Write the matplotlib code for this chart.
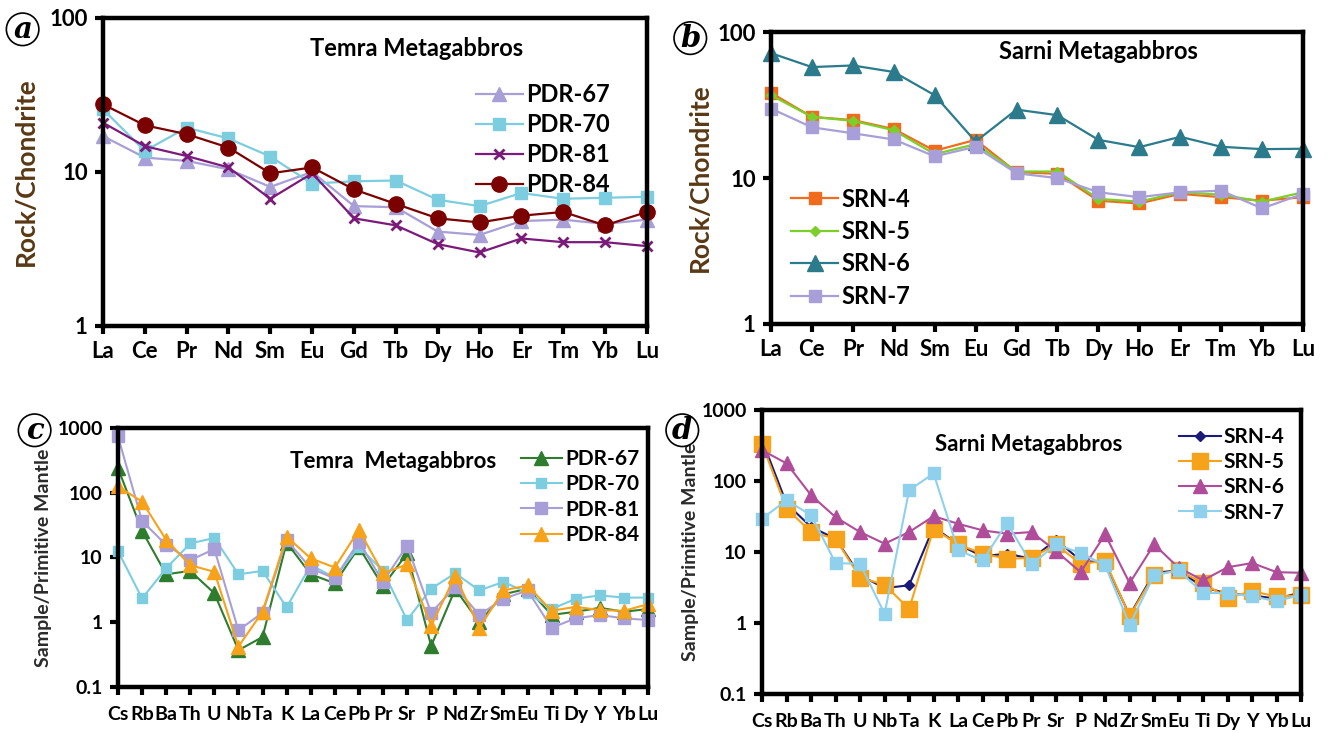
import matplotlib
matplotlib.use("Agg")
import matplotlib.pyplot as plt

plt.rcParams["font.family"] = ["Lato", "DejaVu Sans"]
plt.rcParams["font.weight"] = "bold"

ree = ["La", "Ce", "Pr", "Nd", "Sm", "Eu", "Gd", "Tb", "Dy", "Ho", "Er", "Tm", "Yb", "Lu"]
spider = ["Cs", "Rb", "Ba", "Th", "U", "Nb", "Ta", "K", "La", "Ce", "Pb", "Pr", "Sr",
          "P", "Nd", "Zr", "Sm", "Eu", "Ti", "Dy", "Y", "Yb", "Lu"]

# (a) Temra, chondrite normalised
pdr67_ree = [17.1, 12.4, 11.8, 10.4, 8.0, 10.0, 6.0, 5.9, 4.1, 3.9, 4.8, 4.9, 4.6, 4.9]
pdr70_ree = [25.5, 13.7, 19.4, 16.5, 12.6, 8.4, 8.7, 8.8, 6.6, 6.0, 7.3, 6.7, 6.8, 6.9]
pdr81_ree = [20.9, 14.7, 12.7, 10.7, 6.7, 9.8, 5.0, 4.5, 3.4, 3.0, 3.7, 3.5, 3.5, 3.3]
pdr84_ree = [27.5, 20.1, 17.6, 14.4, 9.8, 10.7, 7.7, 6.2, 5.0, 4.7, 5.2, 5.5, 4.5, 5.5]

# (b) Sarni, chondrite normalised
srn4_ree = [38.4, 26.3, 25.0, 21.7, 15.4, 18.3, 11.0, 10.7, 7.0, 6.7, 7.8, 7.4, 7.0, 7.4]
srn5_ree = [37.0, 26.3, 24.7, 21.3, 14.6, 17.1, 11.1, 11.1, 7.2, 6.9, 8.0, 7.7, 6.9, 8.0]
srn6_ree = [71.9, 57.7, 59.2, 53.4, 37.0, 17.8, 29.5, 27.0, 18.3, 16.3, 19.2, 16.4, 15.8, 15.9]
srn7_ree = [30.0, 22.3, 20.3, 18.4, 14.1, 16.4, 10.8, 10.0, 8.0, 7.4, 8.0, 8.2, 6.2, 7.8]

# (c) Temra, primitive mantle normalised
pdr67_pm = [240, 25.7, 5.5, 6.2, 2.8, 0.37, 0.59, 17, 5.5, 4.0, 14.4, 3.6, 11.6,
            0.43, 3.25, 1.0, 2.7, 3.3, 1.3, 1.45, 1.67, 1.45, 1.6]
pdr70_pm = [12.6, 2.33, 6.8, 16.5, 20, 5.5, 6.2, 1.7, 7.6, 4.9, 14.7, 6.2, 1.08,
            3.3, 5.7, 3.1, 4.2, 2.85, 1.6, 2.3, 2.6, 2.4, 2.4]
pdr81_pm = [743, 36.7, 15.6, 9.1, 13.5, 0.75, 1.4, 18.7, 6.8, 4.75, 17.6, 4.2, 15.3,
            1.4, 3.5, 1.3, 2.3, 3.1, 0.82, 1.15, 1.29, 1.15, 1.08]
pdr84_pm = [125, 73, 18.7, 7.6, 6.0, 0.42, 1.45, 21, 9.7, 7.0, 26.7, 5.7, 7.8,
            0.88, 5.2, 0.82, 3.1, 3.7, 1.5, 1.73, 1.54, 1.5, 1.9]

# (d) Sarni, primitive mantle normalised
srn4_pm = [377, 48, 22.5, 15.4, 4.7, 3.1, 3.4, 22.5, 12.8, 8.7, 9.5, 8.0, 14.9,
           7.6, 7.0, 1.28, 5.1, 5.5, 3.2, 2.6, 2.45, 2.2, 2.7]
srn5_pm = [331, 41, 19.1, 15.4, 4.35, 3.46, 1.58, 21.3, 12.8, 9.5, 8.0, 8.3, 12.8,
           6.8, 7.5, 1.25, 4.8, 5.5, 3.65, 2.26, 2.8, 2.37, 2.45]
srn6_pm = [272, 177, 63, 31, 19.1, 13.1, 19.1, 32, 25, 20.2, 18.1, 19.1, 10.3,
           5.2, 17.7, 3.65, 12.8, 6.0, 4.0, 6.1, 7.0, 5.2, 5.1]
srn7_pm = [29.6, 53.6, 33, 7.0, 6.8, 1.35, 74, 128, 10.6, 7.6, 25.6, 6.7, 12.8,
           9.7, 6.5, 0.94, 4.7, 5.5, 2.64, 2.64, 2.37, 2.03, 2.5]


def style_axes(ax, labels, yticks, tick_fs, ylabel, ylabel_fs, ylabel_color):
    ax.set_yscale("log")
    ax.set_xlim(0, len(labels) - 1)
    ax.set_ylim(yticks[0], yticks[-1])
    ax.set_xticks(range(len(labels)))
    ax.set_xticklabels(labels, fontsize=tick_fs, fontweight="bold")
    ax.set_yticks(yticks)
    ax.set_yticklabels([f"{t:g}" for t in yticks], fontsize=tick_fs, fontweight="bold")
    ax.minorticks_off()
    ax.tick_params(axis="both", direction="out", length=6, width=3, pad=5)
    for s in ax.spines.values():
        s.set_linewidth(3.2)
    ax.set_ylabel(ylabel, fontsize=ylabel_fs, fontweight="bold", color=ylabel_color)


def circled(fig, x, y, letter):
    fig.text(x, y, letter, fontsize=21, family="DejaVu Serif", style="italic",
             fontweight="bold", ha="center", va="center",
             bbox=dict(boxstyle="circle,pad=0.06", fc="white", ec="black", lw=1.2))


fig = plt.figure(figsize=(13.3, 7.33), dpi=100)

# ---- panel a
ax = fig.add_axes([0.0774, 0.5553, 0.409, 0.4202])
x = range(len(ree))
ax.plot(x, pdr67_ree, color="#a79fd6", lw=1.6, marker="^", ms=10, label="PDR-67", clip_on=False)
ax.plot(x, pdr70_ree, color="#7ccde0", lw=1.6, marker="s", ms=8, label="PDR-70", clip_on=False)
ax.plot(x, pdr81_ree, color="#7b1a7b", lw=1.6, marker="x", ms=7, mew=2, label="PDR-81", clip_on=False)
ax.plot(x, pdr84_ree, color="#7b0000", lw=1.6, marker="o", ms=11, label="PDR-84", clip_on=False)
style_axes(ax, ree, [1, 10, 100], 16, "Rock/Chondrite", 19, "#5a3814")
ax.yaxis.labelpad = 8
ax.text(0.577, 0.9, "Temra Metagabbros", transform=ax.transAxes, ha="center",
        va="center", fontsize=17, fontweight="bold")
ax.legend(loc="upper right", bbox_to_anchor=(0.95, 0.82), frameon=False, fontsize=17,
          handlelength=2.0, handletextpad=0.15, labelspacing=0.3, borderaxespad=0)
circled(fig, 0.017, 0.96, "a")

# ---- panel b
ax = fig.add_axes([0.5797, 0.558, 0.4, 0.398])
ax.plot(x, srn4_ree, color="#f26b1d", lw=1.6, marker="s", ms=8, label="SRN-4", clip_on=False)
ax.plot(x, srn5_ree, color="#7ccf2a", lw=1.6, marker="D", ms=5, label="SRN-5", clip_on=False)
ax.plot(x, srn6_ree, color="#2b7b8c", lw=1.6, marker="^", ms=11, label="SRN-6", clip_on=False)
ax.plot(x, srn7_ree, color="#a99fd8", lw=1.6, marker="s", ms=9, label="SRN-7", clip_on=False)
style_axes(ax, ree, [1, 10, 100], 16, "Rock/Chondrite", 19, "#5a3814")
ax.yaxis.labelpad = 4
ax.text(0.615, 0.935, "Sarni Metagabbros", transform=ax.transAxes, ha="center",
        va="center", fontsize=17, fontweight="bold")
ax.legend(loc="upper left", bbox_to_anchor=(0.02, 0.5), frameon=False, fontsize=17,
          handlelength=2.0, handletextpad=0.15, labelspacing=0.4, borderaxespad=0)
circled(fig, 0.519, 0.948, "b")

# ---- panel c
ax = fig.add_axes([0.0887, 0.0628, 0.3985, 0.3533])
xs = range(len(spider))
ax.plot(xs, pdr67_pm, color="#2e7d2e", lw=1.5, marker="^", ms=10, label="PDR-67", clip_on=False)
ax.plot(xs, pdr70_pm, color="#7ccde0", lw=1.5, marker="s", ms=7, label="PDR-70", clip_on=False)
ax.plot(xs, pdr81_pm, color="#a99fd8", lw=1.5, marker="s", ms=8, label="PDR-81", clip_on=False)
ax.plot(xs, pdr84_pm, color="#f7a21b", lw=1.5, marker="^", ms=10, label="PDR-84", clip_on=False)
style_axes(ax, spider, [0.1, 1, 10, 100, 1000], 14, "Sample/Primitive Mantle", 14, "#2a2a2a")
ax.tick_params(axis="x", pad=8)
ax.text(0.52, 0.87, "Temra  Metagabbros", transform=ax.transAxes, ha="center",
        va="center", fontsize=16, fontweight="bold")
ax.legend(loc="upper right", bbox_to_anchor=(1.0, 0.95), frameon=False, fontsize=15,
          handlelength=2.0, handletextpad=0.15, labelspacing=0.25, borderaxespad=0)
circled(fig, 0.026, 0.413, "c")

# ---- panel d
ax = fig.add_axes([0.573, 0.0532, 0.4053, 0.3874])
ax.plot(xs, srn4_pm, color="#1a1a7a", lw=1.5, marker="D", ms=5, label="SRN-4", clip_on=False)
ax.plot(xs, srn5_pm, color="#f7a21b", lw=1.5, marker="s", ms=11, label="SRN-5", clip_on=False)
ax.plot(xs, srn6_pm, color="#b04d9a", lw=1.5, marker="^", ms=10, label="SRN-6", clip_on=False)
ax.plot(xs, srn7_pm, color="#8fd0ec", lw=1.5, marker="s", ms=8, label="SRN-7", clip_on=False)
style_axes(ax, spider, [0.1, 1, 10, 100, 1000], 14, "Sample/Primitive Mantle", 14, "#2a2a2a")
ax.tick_params(axis="x", pad=8)
ax.yaxis.labelpad = 2
ax.text(0.495, 0.877, "Sarni Metagabbros", transform=ax.transAxes, ha="center",
        va="center", fontsize=16, fontweight="bold")
ax.legend(loc="upper right", bbox_to_anchor=(0.985, 0.97), frameon=False, fontsize=15,
          handlelength=2.0, handletextpad=0.15, labelspacing=0.25, borderaxespad=0)
circled(fig, 0.513, 0.413, "d")

fig.savefig("out.png", dpi=100, facecolor="white")
